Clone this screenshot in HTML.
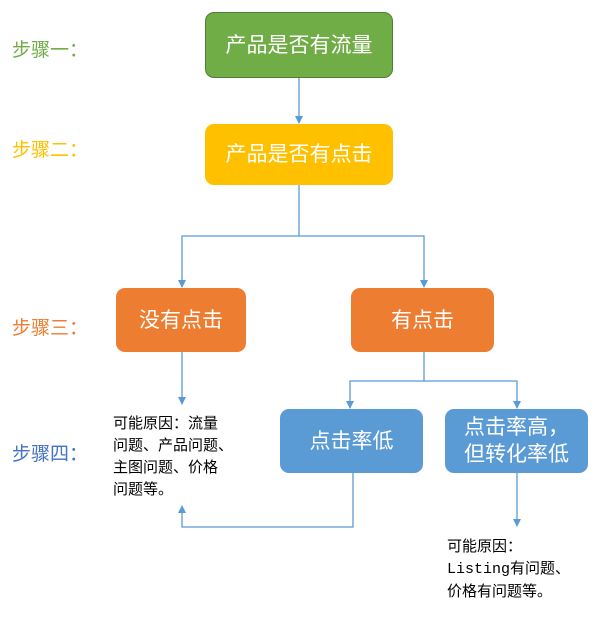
<!DOCTYPE html>
<html><head><meta charset="utf-8"><style>
body{margin:0;width:608px;height:617px;background:#fff;position:relative;font-family:"Liberation Sans","Noto Sans CJK SC",sans-serif;overflow:hidden}
.b{position:absolute;border-radius:9px;color:#fff;display:flex;align-items:center;justify-content:center;text-align:center;font-size:21px;line-height:27px;box-sizing:border-box}
.s{position:absolute;font-size:19px;left:12px}
.t{position:absolute;font-size:15px;line-height:22px;color:#000}
</style></head><body>
<svg width="608" height="617" style="position:absolute;left:0;top:0">
<g stroke="#5b9bd5" stroke-width="1.3" fill="none">
<line x1="299" y1="78" x2="299" y2="123"/>
<polyline points="299,185 299,236 182,236 182,287"/>
<polyline points="299,236 424,236 424,287"/>
<line x1="182" y1="352" x2="182" y2="404"/>
<polyline points="424,352 424,381 350,381 350,408"/>
<polyline points="424,381 517,381 517,408"/>
<polyline points="353,473 353,527 182,527 182,506"/>
<line x1="517" y1="473" x2="517" y2="526"/>
</g>
<g fill="#5b9bd5">
<path d="M295,116 L303,116 L299,124Z"/>
<path d="M178,280 L186,280 L182,288Z"/>
<path d="M420,280 L428,280 L424,288Z"/>
<path d="M178,397 L186,397 L182,405Z"/>
<path d="M346,401 L354,401 L350,409Z"/>
<path d="M513,401 L521,401 L517,409Z"/>
<path d="M178,513 L186,513 L182,505Z"/>
<path d="M513,519 L521,519 L517,527Z"/>
</g>
</svg>
<div class="s" style="top:35px;color:#70ad47">步骤一：</div>
<div class="s" style="top:135px;color:#ffc000">步骤二：</div>
<div class="s" style="top:313px;color:#ed7d31">步骤三：</div>
<div class="s" style="top:439px;color:#4472c4">步骤四：</div>
<div class="b" style="left:205px;top:12px;width:188px;height:66px;background:#70ad47;border:1px solid #507e32">产品是否有流量</div>
<div class="b" style="left:205px;top:124px;width:188px;height:61px;background:#ffc000">产品是否有点击</div>
<div class="b" style="left:116px;top:288px;width:130px;height:64px;background:#ed7d31">没有点击</div>
<div class="b" style="left:351px;top:288px;width:143px;height:64px;background:#ed7d31">有点击</div>
<div class="b" style="left:280px;top:409px;width:143px;height:64px;background:#5b9bd5">点击率低</div>
<div class="b" style="left:445px;top:409px;width:143px;height:64px;background:#5b9bd5">点击率高，<br>但转化率低</div>
<div class="t" style="left:113px;top:413px">可能原因：流量<br>问题、产品问题、<br>主图问题、价格<br>问题等。</div>
<div class="t" style="left:447px;top:536px">可能原因：<br><span style="font-family:'Liberation Mono',monospace">Listing</span>有问题、<br>价格有问题等。</div>
</body></html>
